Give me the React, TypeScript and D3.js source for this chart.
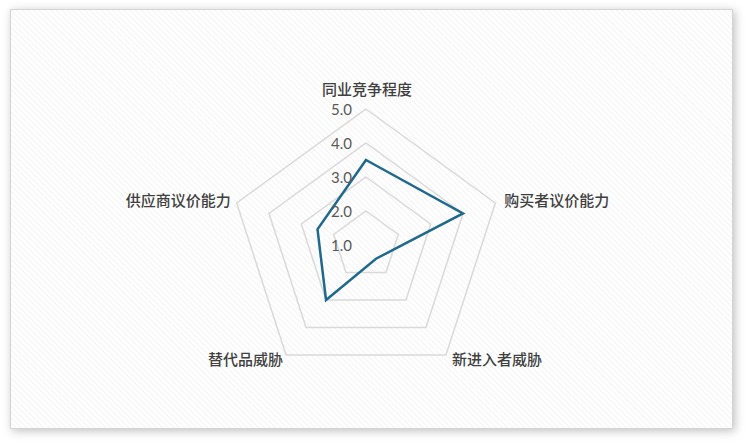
import React from 'react';
import * as d3 from 'd3';

// Five forces radar
const categories = ['同业竞争程度', '购买者议价能力', '新进入者威胁', '替代品威胁', '供应商议价能力'];
const values = [3.5, 4.0, 1.5, 3.0, 2.5];
const ticks = [1, 2, 3, 4, 5];

const W = 750;
const H = 444;
const cx = 366;
const cy = 245;
const R = 136;
const font = '"Noto Sans CJK SC", "Microsoft YaHei", sans-serif';

export default function App() {
    const r = d3.scaleLinear().domain([1, 5]).range([0, R]);
    const angle = d3.scaleLinear().domain([0, categories.length]).range([0, 2 * Math.PI]);

    const ring = (v: number) =>
        d3.lineRadial<number>()
            .angle((_, i) => angle(i))
            .radius(() => r(v))
            .curve(d3.curveLinearClosed)(categories.map(() => v)) || '';

    const dataPath = d3.lineRadial<number>()
        .angle((_, i) => angle(i))
        .radius(d => r(d))
        .curve(d3.curveLinearClosed)(values) || '';

    const point = (i: number, rad: number) => {
        const a = angle(i);
        return [cx + rad * Math.sin(a), cy - rad * Math.cos(a)];
    };

    // label placement per axis
    const labelPos = categories.map((c, i) => {
        const [x, y] = point(i, R);
        if (i === 0) return { x: x + 1, y: y - 19, anchor: 'middle' };
        if (i === 1) return { x: x + 9, y: y - 2, anchor: 'start' };
        if (i === 2) return { x: x + 6, y: y + 5, anchor: 'start' };
        if (i === 3) return { x: x - 3, y: y + 5, anchor: 'end' };
        return { x: x - 6, y: y - 2, anchor: 'end' };
    });

    return (
        <div style={{ position: 'fixed', left: 0, top: 0 }}>
            <svg width={W} height={H} style={{ display: 'block' }}>
                <defs>
                    <pattern id="stripes" width="4" height="4" patternUnits="userSpaceOnUse" patternTransform="rotate(-45)">
                        <rect width="4" height="4" fill="#ffffff" />
                        <line x1="0" y1="0" x2="0" y2="4" stroke="#f0f0f0" strokeWidth="1.6" />
                    </pattern>
                    <filter id="shadow" x="-5%" y="-5%" width="110%" height="115%">
                        <feDropShadow dx="2" dy="2" stdDeviation="5" floodColor="#000" floodOpacity="0.25" />
                    </filter>
                </defs>
                <rect x={0} y={0} width={W} height={H} fill="#ffffff" />
                <rect x={10.5} y={9.5} width={722} height={419} fill="url(#stripes)" stroke="#d4d4d4" strokeWidth={1} filter="url(#shadow)" />

                <g transform={`translate(${cx},${cy})`}>
                    {ticks.slice(1).map(t => (
                        <path key={t} d={ring(t)} fill="none" stroke="#d9d9d9" strokeWidth={1.5} />
                    ))}
                    <path d={dataPath} fill="none" stroke="#1f6a8c" strokeWidth={2.5} strokeLinejoin="miter" />
                </g>

                {ticks.map(t => (
                    <text key={t} x={cx - 14} y={cy - r(t) + 1} dy="0.35em" textAnchor="end"
                        fontFamily="Lato, sans-serif" fontSize={15} fill="#595959">
                        {t.toFixed(1)}
                    </text>
                ))}

                {categories.map((c, i) => (
                    <text key={c} x={labelPos[i].x} y={labelPos[i].y} dy="0.35em"
                        textAnchor={labelPos[i].anchor as any}
                        fontFamily={font} fontSize={15} fontWeight={500} fill="#404040">
                        {c}
                    </text>
                ))}
            </svg>
        </div>
    );
}
